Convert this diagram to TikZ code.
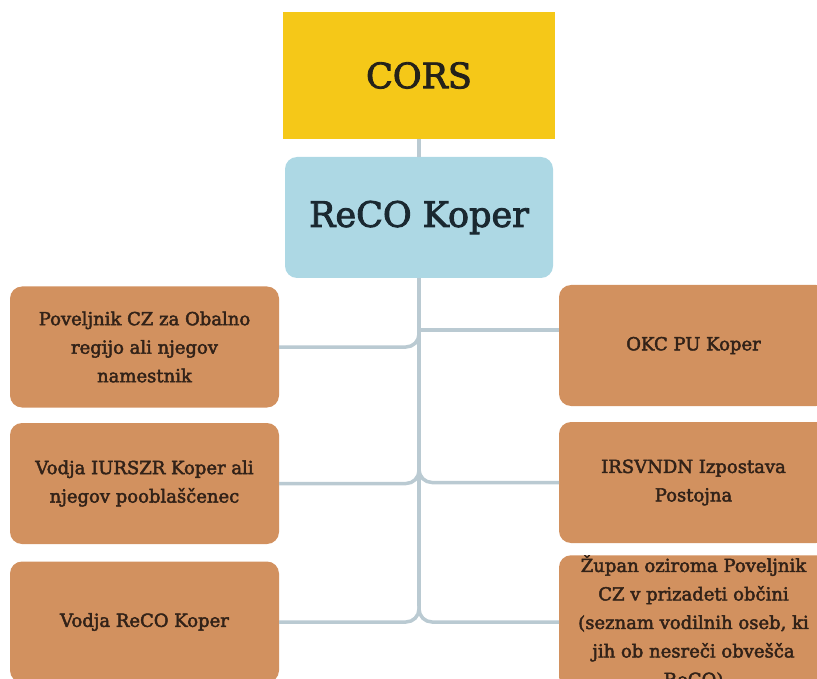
\documentclass[tikz,border=0pt]{standalone}
\usepackage{fontspec}
\setmainfont{DejaVu Serif}[FakeBold=2.5]
\begin{document}
\begin{tikzpicture}[x=1pt,y=-1pt,
  every node/.style={inner sep=0pt,outer sep=0pt},
  corsbox/.style={fill=corsY,minimum width=272pt,minimum height=127pt,text=corsT,font=\fontsize{35}{42}\selectfont},
  recobox/.style={fill=recoB,rounded corners=12pt,minimum width=268pt,minimum height=121pt,text=recoT,font=\fontsize{35}{40}\selectfont},
  orgbox/.style={fill=orgF,rounded corners=12pt,minimum width=269pt,minimum height=121pt,text=orgT,align=center,font=\fontsize{18}{28.5}\selectfont},
  link/.style={draw=linkC,line width=3.5pt,rounded corners=13pt}]
\definecolor{corsY}{RGB}{245,200,24}
\definecolor{corsT}{RGB}{36,34,26}
\definecolor{recoB}{RGB}{173,216,228}
\definecolor{recoT}{RGB}{26,40,48}
\definecolor{orgF}{RGB}{210,145,95}
\definecolor{orgT}{RGB}{50,34,24}
\definecolor{linkC}{RGB}{186,202,210}
\useasboundingbox (0,0) rectangle (817,679);
\begin{scope}
\clip (0,0) rectangle (817,679);
\coordinate (jr1) at (419,330);
\coordinate (jl1) at (419,328);
\coordinate (f2) at (419,465);
\coordinate (f3) at (419,606);
\node[corsbox] (cors) at (419,75.5) {CORS};
\node[recobox] (reco) at (419,217.5) {ReCO Koper};
\node[orgbox] (l1) at (144.5,347) {Poveljnik CZ za Obalno\\regijo ali njegov\\namestnik};
\node[orgbox] (l2) at (144.5,483.5) {Vodja IURSZR Koper ali\\njegov pooblaščenec};
\node[orgbox] (l3) at (144.5,622) {Vodja ReCO Koper};
\node[orgbox] (r1) at (693.5,345.5) {OKC PU Koper};
\node[orgbox] (r2) at (693.5,482.5) {IRSVNDN Izpostava\\Postojna};
\node[orgbox] (r3) at (693.5,622) {Župan oziroma Poveljnik\\CZ v prizadeti občini\\(seznam vodilnih oseb, ki\\jih ob nesreči obvešča\\ReCO)};
\draw[link] (cors.south) -- (reco.north);
\draw[link] (reco.south) -- (f3);
\draw[link] (jr1) -- (jr1 -| r1.west);
\draw[link] (jl1) |- (l1.east);
\draw[link] (f2) |- (l2.east);
\draw[link] (f2) |- (r2.west);
\draw[link] (f3) |- (l3.east);
\draw[link] (f3) |- (r3.west);
\end{scope}
\end{tikzpicture}
\end{document}
